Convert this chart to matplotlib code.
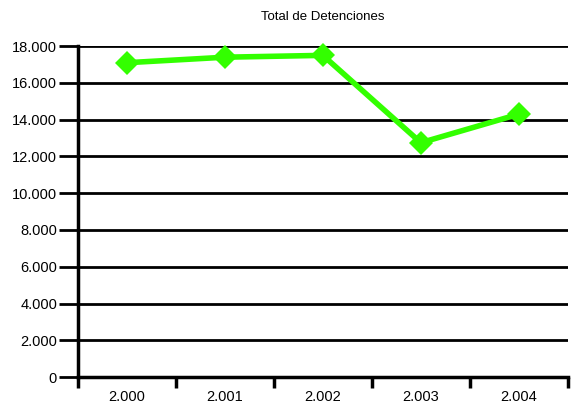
import matplotlib.pyplot as plt
import numpy as np

plt.rcParams['font.family'] = ['Liberation Sans', 'DejaVu Sans']

# Data
years = ['2.000', '2.001', '2.002', '2.003', '2.004']
detenciones = [17100, 17400, 17500, 12750, 14300]
yticks = np.arange(0, 18001, 2000)
ytick_labels = ['0', '2.000', '4.000', '6.000', '8.000', '10.000', '12.000', '14.000', '16.000', '18.000']

fig = plt.figure(figsize=(5.73, 4.05), dpi=100)
ax = fig.add_axes([0.136, 0.069, 0.855, 0.817])

x = np.arange(len(years))
ax.plot(x, detenciones, color='#33ff00', linewidth=4, marker='D', markersize=12,
        markeredgewidth=0, zorder=3, clip_on=False)

ax.set_ylim(0, 18000)
ax.set_xlim(-0.5, len(years) - 0.5)
ax.set_yticks(yticks)
ax.set_yticklabels(ytick_labels, fontsize=10.5)
ax.grid(axis='y', color='black', linewidth=2)

# x ticks at category boundaries, labels centered
ax.set_xticks(np.arange(-0.5, len(years), 1))
ax.set_xticklabels([])
ax.set_xticks(x, minor=True)
ax.set_xticklabels(years, minor=True, fontsize=10.5)
ax.tick_params(axis='x', which='major', direction='out', length=8, width=2.5)
ax.tick_params(axis='x', which='minor', length=0, pad=9)
ax.tick_params(axis='y', direction='out', length=14, width=2, pad=1)

for side in ['top', 'right']:
    ax.spines[side].set_visible(False)
for side in ['left', 'bottom']:
    ax.spines[side].set_linewidth(2.5)

ax.set_title('Total de Detenciones', fontsize=9.5, pad=19)

fig.savefig('out.png', dpi=100)
